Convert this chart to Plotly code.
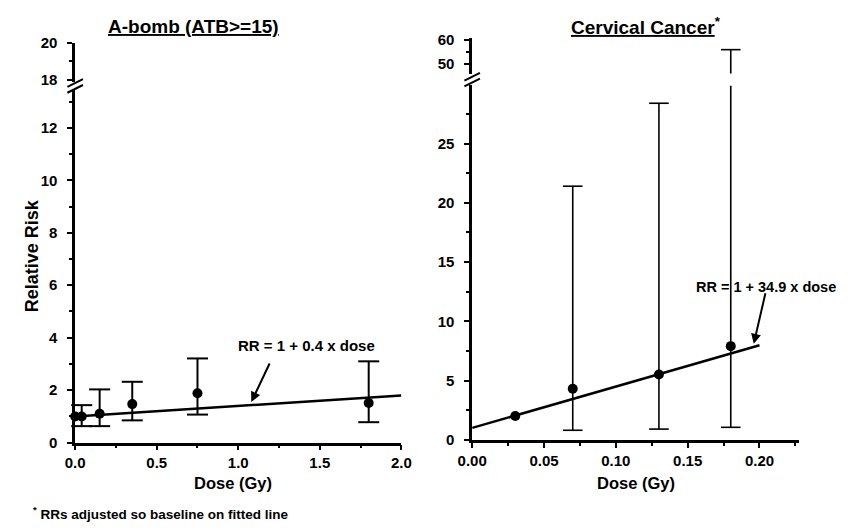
import plotly.graph_objects as go

# ---------------- data ----------------
abomb_dose = [0.0, 0.04, 0.15, 0.35, 0.75, 1.8]
abomb_rr = [1.0, 1.0, 1.1, 1.47, 1.88, 1.51]
abomb_lo = [None, 0.63, 0.63, 0.85, 1.07, 0.78]
abomb_hi = [None, 1.43, 2.03, 2.32, 3.21, 3.10]
abomb_fit_dose = [0.0, 2.0]
abomb_fit_rr = [1.0, 1.8]

cerv_dose = [0.03, 0.07, 0.13, 0.18]
cerv_rr = [2.0, 4.3, 5.5, 7.9]
cerv_lo = [None, 0.8, 0.9, 1.05]
cerv_hi = [None, 21.4, 28.4, 56.0]
cerv_fit_dose = [0.0, 0.2]
cerv_fit_rr = [1.0, 7.98]

abomb_title = "A-bomb (ATB&gt;=15)"
cerv_title = "Cervical Cancer"
abomb_label = "RR = 1 + 0.4 x dose"
cerv_label = "RR = 1 + 34.9 x dose"
footnote = "RRs adjusted so baseline on fitted line"

# ---------------- layout geometry (pixels) ----------------
W, H = 852, 531
FONT = "Arial, Liberation Sans, Helvetica, sans-serif"


def fx(p):
    return p / W


def fy(p):
    return 1 - p / H


# left panel
L_X0, L_X1 = 62, 398
L_LOW = (448, 84)      # bottom, top pixel of lower segment
L_UP = (75, 35)
L_LOW_RANGE = [0, 13.43]
L_UP_RANGE = [17.9, 20]
# right panel
R_X0, R_X1 = 471, 808
R_LOW = (445, 79)
R_UP = (67, 29.5)
R_LOW_RANGE = [0, 29.9]
R_UP_RANGE = [46, 61]

fig = go.Figure()


def add_bars(dose, lo, hi, xa, ylow, yup, low_top, up_bottom, lw, cap):
    lx, ly, ux, uy = [], [], [], []
    clx, cly, cux, cuy = [], [], [], []
    for d, l, h in zip(dose, lo, hi):
        if l is None:
            continue
        if h <= low_top:
            lx += [d, d, None]
            ly += [l, h, None]
            clx += [d, d]
            cly += [l, h]
        else:
            lx += [d, d, None]
            ly += [l, low_top, None]
            clx += [d]
            cly += [l]
            ux += [d, d, None]
            uy += [up_bottom, h, None]
            cux += [d]
            cuy += [h]
    fig.add_trace(go.Scatter(x=lx, y=ly, mode="lines", xaxis=xa, yaxis=ylow,
                             line=dict(color="black", width=lw), cliponaxis=False,
                             showlegend=False, hoverinfo="skip"))
    fig.add_trace(go.Scatter(x=clx, y=cly, mode="markers", xaxis=xa, yaxis=ylow,
                             marker=dict(symbol="line-ew", size=cap,
                                         line=dict(color="black", width=lw)),
                             cliponaxis=False, showlegend=False, hoverinfo="skip"))
    fig.add_trace(go.Scatter(x=ux if ux else [None], y=uy if uy else [None], mode="lines",
                             xaxis=xa, yaxis=yup,
                             line=dict(color="black", width=lw), cliponaxis=False,
                             showlegend=False, hoverinfo="skip"))
    fig.add_trace(go.Scatter(x=cux if cux else [None], y=cuy if cuy else [None], mode="markers",
                             xaxis=xa, yaxis=yup,
                             marker=dict(symbol="line-ew", size=cap,
                                         line=dict(color="black", width=lw)),
                             cliponaxis=False, showlegend=False, hoverinfo="skip"))


# left panel traces
fig.add_trace(go.Scatter(x=abomb_fit_dose, y=abomb_fit_rr, mode="lines", xaxis="x", yaxis="y",
                         line=dict(color="black", width=2.5), showlegend=False, cliponaxis=False))
add_bars(abomb_dose, abomb_lo, abomb_hi, "x", "y", "y2", L_LOW_RANGE[1], L_UP_RANGE[0], 2, 15)
fig.add_trace(go.Scatter(x=abomb_dose, y=abomb_rr, mode="markers", xaxis="x", yaxis="y",
                         marker=dict(color="black", size=10), showlegend=False, cliponaxis=False))

# right panel traces
fig.add_trace(go.Scatter(x=cerv_fit_dose, y=cerv_fit_rr, mode="lines", xaxis="x2", yaxis="y3",
                         line=dict(color="black", width=2.5), showlegend=False, cliponaxis=False))
add_bars(cerv_dose, cerv_lo, cerv_hi, "x2", "y3", "y4", R_LOW_RANGE[1], R_UP_RANGE[0], 1.6, 14)
fig.add_trace(go.Scatter(x=cerv_dose, y=cerv_rr, mode="markers", xaxis="x2", yaxis="y3",
                         marker=dict(color="black", size=10), showlegend=False, cliponaxis=False))

tickfont = dict(family=FONT, size=15, color="black", weight="bold")
common = dict(showline=True, linecolor="black", linewidth=2.5, ticks="outside",
              tickwidth=2, tickcolor="black", showgrid=False, zeroline=False,
              tickfont=tickfont, fixedrange=True)
minor_style = dict(ticks="outside", ticklen=3, tickwidth=2, tickcolor="black")

fig.update_layout(
    width=W, height=H, margin=dict(l=0, r=0, t=0, b=0),
    paper_bgcolor="white", plot_bgcolor="white", showlegend=False,
    xaxis=dict(domain=[fx(L_X0), fx(L_X1)], range=[0, 2.0], anchor="y",
               tickmode="linear", tick0=0, dtick=0.5, tickformat=".1f", ticklen=5,
               minor=dict(dtick=0.25, **minor_style), **common),
    yaxis=dict(domain=[fy(L_LOW[0]), fy(L_LOW[1])], range=L_LOW_RANGE, anchor="x",
               tickmode="linear", tick0=0, dtick=2, ticklen=5, ticklabelstandoff=7,
               minor=dict(dtick=1, **minor_style), **common),
    yaxis2=dict(domain=[fy(L_UP[0]), fy(L_UP[1])], range=L_UP_RANGE, anchor="x",
                tickmode="linear", tick0=0, dtick=2, ticklen=5, ticklabelstandoff=7,
                minor=dict(dtick=1, **minor_style), **common),
    xaxis2=dict(domain=[fx(R_X0), fx(R_X1)], range=[0, (R_X1 - R_X0) / 1480], anchor="y3",
                tickmode="linear", tick0=0, dtick=0.05, tickformat=".2f", ticklen=5,
                minor=dict(dtick=0.025, **minor_style), **common),
    yaxis3=dict(domain=[fy(R_LOW[0]), fy(R_LOW[1])], range=R_LOW_RANGE, anchor="x2",
                tickmode="linear", tick0=0, dtick=5, ticklen=5, ticklabelstandoff=7,
                minor=dict(dtick=2.5, **minor_style), **common),
    yaxis4=dict(domain=[fy(R_UP[0]), fy(R_UP[1])], range=R_UP_RANGE, anchor="x2",
                tickmode="linear", tick0=0, dtick=10, ticklen=5, ticklabelstandoff=7,
                minor=dict(dtick=5, **minor_style), **common),
)

bold = lambda s: dict(family=FONT, size=s, color="black", weight="bold")
ann = []
# titles
ann.append(dict(text="<u>" + abomb_title + "</u>", x=fx(184), y=fy(18), xref="paper", yref="paper",
                showarrow=False, font=bold(19), xanchor="center", yanchor="middle"))
ann.append(dict(text="<u>" + cerv_title + "</u><sup>*</sup>", x=fx(650), y=fy(18), xref="paper",
                yref="paper", showarrow=False, font=bold(19), xanchor="center", yanchor="middle"))
# axis titles
ann.append(dict(text="Relative Risk", x=fx(17), y=fy(255), xref="paper", yref="paper",
                textangle=-90, showarrow=False, font=bold(18), xanchor="center", yanchor="middle"))
ann.append(dict(text="Dose (Gy)", x=fx(225), y=fy(490), xref="paper", yref="paper",
                showarrow=False, font=bold(16.5), xanchor="center", yanchor="middle"))
ann.append(dict(text="Dose (Gy)", x=fx(640), y=fy(490), xref="paper", yref="paper",
                showarrow=False, font=bold(16.5), xanchor="center", yanchor="middle"))
# footnote
ann.append(dict(text="<sup>*</sup> " + footnote, x=fx(16), y=fy(521), xref="paper", yref="paper",
                showarrow=False, font=bold(13.5), xanchor="left", yanchor="middle"))
# fit labels
ann.append(dict(text=abomb_label, x=fx(300), y=fy(348), xref="paper", yref="paper",
                showarrow=False, font=bold(15), xanchor="center", yanchor="middle"))
ann.append(dict(text="", x=1.08, y=1.55, xref="x", yref="y", ax=19, ay=-40,
                showarrow=True, arrowhead=2, arrowsize=1, arrowwidth=2, arrowcolor="black"))
ann.append(dict(text=cerv_label, x=fx(774), y=fy(287), xref="paper", yref="paper",
                showarrow=False, font=bold(14.5), xanchor="center", yanchor="middle"))
ann.append(dict(text="", x=0.196, y=8.1, xref="x2", yref="y3", ax=12, ay=-52,
                showarrow=True, arrowhead=2, arrowsize=1, arrowwidth=2, arrowcolor="black"))
fig.update_layout(annotations=ann)

# axis break marks (decorations)
shapes = []
for ax_px, low_top, up_bot in [(L_X0, L_LOW[1], L_UP[0]), (R_X0, R_LOW[1], R_UP[0])]:
    mid = (low_top + up_bot) / 2
    for off in (-3, 3):
        shapes.append(dict(type="line", xref="paper", yref="paper",
                           x0=fx(ax_px - 8), y0=fy(mid + off + 4),
                           x1=fx(ax_px + 8), y1=fy(mid + off - 4),
                           line=dict(color="black", width=2)))
fig.update_layout(shapes=shapes)

fig.write_html("out.html")
